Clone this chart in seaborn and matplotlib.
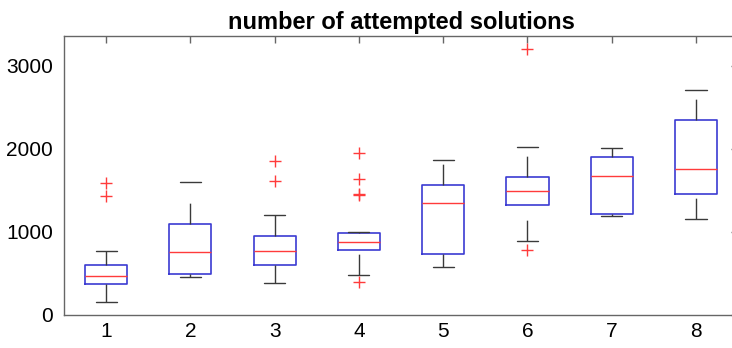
import pandas as pd
import matplotlib
matplotlib.use("Agg")
import matplotlib.pyplot as plt
import seaborn as sns

# attempted solutions per condition (values estimated from the reference boxplot)
g1 = [156, 250, 330, 376, 420, 450, 465, 520, 570, 605, 765, 1426, 1587]
g2 = [457, 480, 493, 600, 757, 900, 1098, 1350, 1599]
g3 = [381, 450, 540, 597, 680, 740, 773, 820, 900, 950, 1202, 1615, 1855]
g4 = [393, 485, 560, 650, 720, 781, 810, 840, 860, 875, 881, 900, 930, 960,
      980, 990, 995, 1438, 1450, 1631, 1955]
g5 = [581, 650, 733, 1000, 1346, 1450, 1563, 1700, 1867]
g6 = [781, 893, 1100, 1318, 1400, 1450, 1490, 1550, 1600, 1663, 1800, 2023, 3197]
g7 = [1186, 1200, 1218, 1450, 1675, 1800, 1907, 1950, 2007]
g8 = [1158, 1300, 1454, 1600, 1751, 2000, 2344, 2500, 2712]

groups = ["1", "2", "3", "4", "5", "6", "7", "8"]
values = [g1, g2, g3, g4, g5, g6, g7, g8]
yticks = [0, 1000, 2000, 3000]

df = pd.DataFrame({
    "group": [g for g, v in zip(groups, values) for _ in v],
    "attempts": [x for v in values for x in v],
})

sns.set_style("white")
plt.rcParams["font.family"] = ["Liberation Sans", "DejaVu Sans"]

fig = plt.figure(figsize=(7.32, 3.48), dpi=100)
ax = fig.add_axes([0.0874, 0.095, 0.921, 0.802])

blue = "#3b3bd2"
red = "#ff3b3b"
dark = "#3a3a3a"

sns.boxplot(data=df, x="group", y="attempts", order=groups, ax=ax,
            width=0.5, fill=False, linewidth=1.0,
            boxprops=dict(color=blue, linewidth=1.2),
            medianprops=dict(color=red, linewidth=1.0),
            whiskerprops=dict(color=dark, linewidth=1.0, linestyle=(0, (15, 20))),
            capprops=dict(color=dark, linewidth=1.0),
            flierprops=dict(marker="+", markeredgecolor=red, markerfacecolor=red,
                            markersize=8, markeredgewidth=1.0))

# matlab draws the dash pattern from low value to high value
for line in ax.lines:
    xd, yd = list(line.get_xdata()), list(line.get_ydata())
    if len(xd) == 2 and xd[0] == xd[1] and yd[0] != yd[1]:
        line.set_ydata(sorted(yd))

ax.set_xlim(-0.5, 7.5)
ax.set_ylim(0, 3360)
ax.set_yticks(yticks)
ax.set_xlabel("")
ax.set_ylabel("")
ax.set_title("number of attempted solutions", fontsize=17, fontweight="bold",
             color="black", pad=5)

for s in ax.spines.values():
    s.set_visible(True)
    s.set_color("#666666")
    s.set_linewidth(1.0)
ax.tick_params(direction="in", length=5, width=1.0, color="#666666",
               top=True, right=True, labelsize=15, labelcolor="black")
ax.tick_params(axis="y", pad=8)
ax.tick_params(axis="x", pad=5)

fig.savefig("out.png", dpi=100)
